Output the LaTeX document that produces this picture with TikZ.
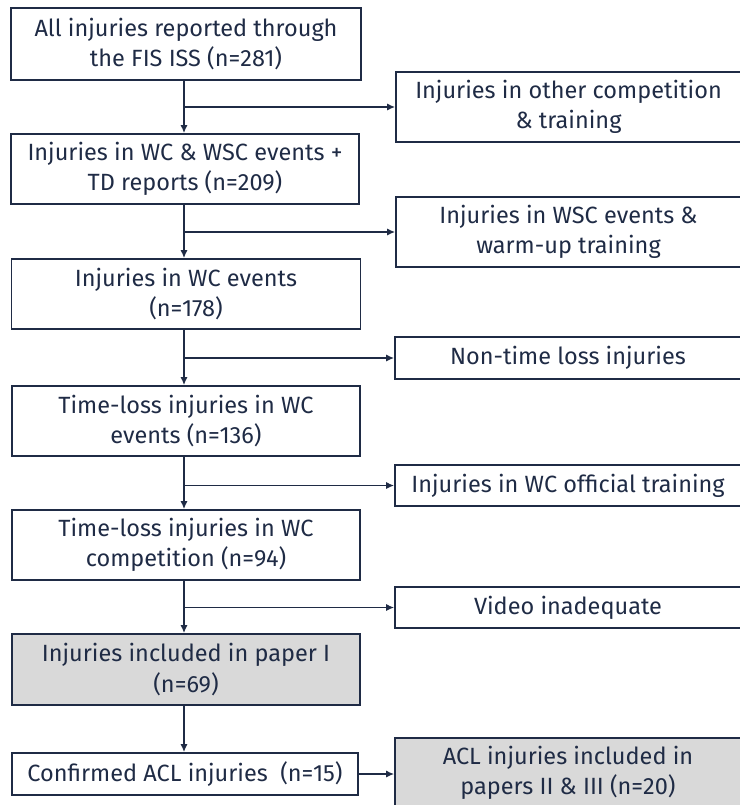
\documentclass[tikz,border=0pt]{standalone}
\usepackage{fontspec}
\setmainfont{Fira Sans}
\usetikzlibrary{arrows.meta}
\definecolor{navy}{HTML}{1F2B45}
\definecolor{boxgray}{HTML}{D9D9D9}
\tikzset{
  box/.style={draw=navy, line width=1.6pt, text=navy, rectangle, align=center,
    inner sep=0pt, font=\fontsize{23.5}{30.5}\selectfont},
  graybox/.style={box, fill=boxgray},
  conn/.style={draw=navy, line width=1.5pt, -{Latex[length=8pt,width=7pt]}},
}
\begin{document}
\begin{tikzpicture}[x=1pt,y=-1pt]
\useasboundingbox (0,0) rectangle (739,805);
% main column
\node[box, minimum width=350pt, minimum height=72pt] (A) at (186,44) {All injuries reported through\\the FIS ISS (n=281)};
\node[box, minimum width=348pt, minimum height=70pt] (B) at (185,169) {Injuries in WC \& WSC events +\\TD reports (n=209)};
\node[box, minimum width=349pt, minimum height=70pt] (C) at (186,294) {Injuries in WC events\\(n=178)};
\node[box, minimum width=348pt, minimum height=70pt] (D) at (186,421) {Time-loss injuries in WC\\events (n=136)};
\node[box, minimum width=348pt, minimum height=70pt] (E) at (186,545) {Time-loss injuries in WC\\competition (n=94)};
\node[graybox, minimum width=348pt, minimum height=71pt] (F) at (186,669.5) {Injuries included in paper I\\(n=69)};
\node[box, minimum width=346pt, minimum height=42pt] (G) at (185,774) {Confirmed ACL injuries~~(n=15)};
% right column
\node[box, minimum width=345pt, minimum height=70pt] (R1) at (568.5,107) {Injuries in other competition\\\& training};
\node[box, minimum width=345pt, minimum height=70pt] (R2) at (568.5,232) {Injuries in WSC events \&\\warm-up training};
\node[box, minimum width=346pt, minimum height=42pt] (R3) at (568,358) {Non-time loss injuries};
\node[box, minimum width=346pt, minimum height=41pt] (R4) at (568,485.5) {Injuries in WC official training};
\node[box, minimum width=346pt, minimum height=41pt] (R5) at (568,607.5) {Video inadequate};
\node[graybox, minimum width=346pt, minimum height=70pt] (R6) at (568,773) {ACL injuries included in\\papers II \& III (n=20)};
% trunk coordinates
\coordinate (tx) at (184,0);
% connectors
\draw[conn] (A.south -| tx) -- (B.north -| tx);
\draw[conn] (R1.west -| tx) -- (R1.west);
\draw[conn] (B.south -| tx) -- (C.north -| tx);
\draw[conn] (R2.west -| tx) -- (R2.west);
\draw[conn] (C.south -| tx) -- (D.north -| tx);
\draw[conn] (R3.west -| tx) -- (R3.west);
\draw[conn] (D.south -| tx) -- (E.north -| tx);
\draw[conn] (R4.west -| tx) -- (R4.west);
\draw[conn] (E.south -| tx) -- (F.north -| tx);
\draw[conn] (R5.west -| tx) -- (R5.west);
\draw[conn] (F.south -| tx) -- (G.north -| tx);
\draw[conn] (G.east) -- (G.east -| R6.west);
\end{tikzpicture}
\end{document}
